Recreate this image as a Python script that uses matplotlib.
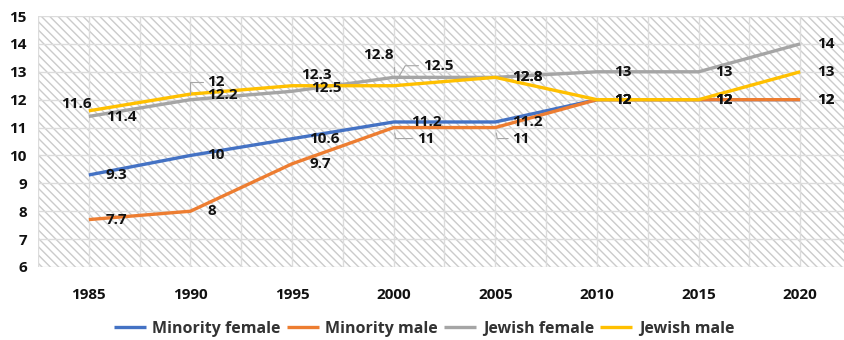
import matplotlib
matplotlib.use("Agg")
import matplotlib.pyplot as plt
from matplotlib.patches import Rectangle

plt.rcParams['font.family'] = ['Open Sans', 'DejaVu Sans']
plt.rcParams['hatch.linewidth'] = 1.0
plt.rcParams['hatch.color'] = '#cbcbcb'

years = ['1985', '1990', '1995', '2000', '2005', '2010', '2015', '2020']
minority_female = [9.3, 10, 10.6, 11.2, 11.2, 12, 12, 12]
minority_male = [7.7, 8, 9.7, 11, 11, 12, 12, 12]
jewish_female = [11.4, 12, 12.3, 12.8, 12.8, 13, 13, 14]
jewish_male = [11.6, 12.2, 12.5, 12.5, 12.8, 12, 12, 13]

series = [
    ('Minority female', minority_female, '#4472c4'),
    ('Minority male', minority_male, '#ed7d31'),
    ('Jewish female', jewish_female, '#a5a5a5'),
    ('Jewish male', jewish_male, '#ffc000'),
]

# label offsets in pixels (dx, dy, ha, leader connection angle or None)
default_off = (17, 0, 'left', None)
special = {
    ('Jewish male', 0): (3, 7, 'right', None),
    ('Jewish female', 0): (17, -1, 'left', None),
    ('Jewish female', 1): (17, 18, 'left', 90),
    ('Jewish male', 1): (17, -1, 'left', None),
    ('Jewish female', 2): (9, 16, 'left', None),
    ('Jewish male', 2): (19, -2, 'left', None),
    ('Jewish female', 3): (0, 22, 'right', 90),
    ('Jewish male', 3): (29, 20, 'left', 60),
    ('Minority male', 3): (23, -11, 'left', 100),
    ('Minority male', 4): (17, -11, 'left', 100),
}

fig = plt.figure(figsize=(8.45, 3.4), dpi=100)
ax = fig.add_axes([38 / 845, 73 / 340, 813 / 845, 251 / 340])

x = list(range(len(years)))
ax.add_patch(Rectangle((0, 0), 1, 1, transform=ax.transAxes, facecolor='white',
                       hatch='\\\\\\\\', edgecolor='#cbcbcb', lw=0, zorder=0))

for name, vals, color in series:
    ax.plot(x, vals, color=color, lw=2.4, label=name, zorder=3, solid_capstyle='butt')

for name, vals, color in series:
    for i, v in enumerate(vals):
        dx, dy, ha, ang = special.get((name, i), default_off)
        arrow = None
        if ang is not None:
            arrow = dict(arrowstyle='-', color='#a6a6a6', lw=0.8, shrinkA=1, shrinkB=4,
                         connectionstyle=f'angle,angleA=0,angleB={ang},rad=0')
        txt = f'{v:g}'
        ax.annotate(txt, xy=(i, v), xytext=(dx, dy), textcoords='offset pixels',
                    ha=ha, va='center', fontsize=11, fontweight='bold',
                    color='#111111', zorder=5, arrowprops=arrow)

ax.set_xlim(-0.5, len(years) - 0.5)
ax.set_ylim(6, 15)
ax.set_yticks(range(6, 16))
ax.set_xticks(x)
ax.set_xticklabels(years)
ax.set_xticks([i + 0.5 for i in range(-1, len(years))], minor=True)
ax.grid(True, which='both', color='#dcdcdc', lw=1.0)
ax.set_axisbelow(True)
ax.tick_params(which='both', length=0)
ax.tick_params(axis='x', pad=15)
ax.tick_params(axis='y', pad=8)
for lab in ax.get_xticklabels() + ax.get_yticklabels():
    lab.set_fontweight('bold')
    lab.set_fontsize(11)
    lab.set_color('#111111')
for s in ax.spines.values():
    s.set_visible(False)

leg = fig.legend(loc='center', bbox_to_anchor=(424 / 845, 1 - 329 / 340), ncol=4,
                 frameon=False, handlelength=2.0, handletextpad=0.4, columnspacing=0.4,
                 prop={'weight': 'bold', 'size': 11.5})
for t in leg.get_texts():
    t.set_color('#333333')

fig.savefig('out.png', dpi=100)
